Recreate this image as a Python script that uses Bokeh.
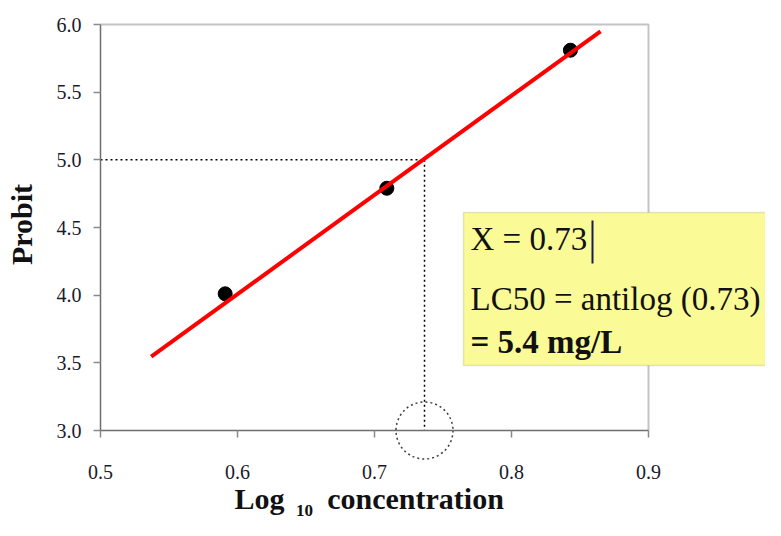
import numpy as np
from bokeh.plotting import figure
from bokeh.models import (Label, BoxAnnotation, FixedTicker,
                          NumeralTickFormatter, Range1d)
from bokeh.embed import file_html
from bokeh.resources import INLINE

# ---- data ----
log_conc = [0.591, 0.709, 0.843]
probit = [4.01, 4.79, 5.81]
fit_x = [0.537, 0.865]
fit_y = [3.546, 5.95]
lc50_x = 0.7365
probit_50 = 5.0
x_ticks = [0.5, 0.6, 0.7, 0.8, 0.9]
y_ticks = [3.0, 3.5, 4.0, 4.5, 5.0, 5.5, 6.0]

SERIF = "Liberation Serif"
W, H = 765, 520
# plot box in canvas pixels: x 0.5->100, 0.9->648 ; y 6.0->24, 3.0->430
SX = (648 - 100) / (x_ticks[-1] - x_ticks[0])
SY = (430 - 24) / (y_ticks[-1] - y_ticks[0])


def px_x(px):
    return x_ticks[0] + (px - 100) / SX


def px_y(py):
    return y_ticks[-1] - (py - 24) / SY


p = figure(width=W, height=H, output_backend="svg", toolbar_location=None,
           x_range=Range1d(px_x(0), px_x(W)), y_range=Range1d(px_y(H), px_y(0)),
           min_border=0)
p.grid.visible = False
p.outline_line_color = None

p.xaxis.fixed_location = y_ticks[0]
p.yaxis.fixed_location = x_ticks[0]
p.xaxis.bounds = (x_ticks[0], x_ticks[-1])
p.yaxis.bounds = (y_ticks[0], y_ticks[-1])

for ax, ticks in ((p.xaxis, x_ticks), (p.yaxis, y_ticks)):
    ax.ticker = FixedTicker(ticks=ticks)
    ax.formatter = NumeralTickFormatter(format="0.0")
    ax.minor_tick_line_color = None
    ax.major_tick_in = 0
    ax.major_tick_out = 7
    ax.axis_line_color = "#6e6e6e"
    ax.axis_line_width = 1.5
    ax.major_tick_line_color = "#8a8a8a"
    ax.major_tick_line_width = 1.5
    ax.major_label_text_font = SERIF
    ax.major_label_text_font_size = "20px"
    ax.major_label_text_color = "#1a1a2a"
p.xaxis.major_label_standoff = 27
p.yaxis.major_label_standoff = 12

# light top / right border of the plot box
p.line([x_ticks[0], x_ticks[-1], x_ticks[-1]], [y_ticks[-1], y_ticks[-1], y_ticks[0]],
       line_color="#c4c4c4", line_width=2)

# dotted guide lines
p.segment(x0=[x_ticks[0], lc50_x], y0=[probit_50, probit_50],
          x1=[lc50_x, lc50_x], y1=[probit_50, y_ticks[0]],
          line_color="black", line_width=1.5, line_dash="2 3")

# dotted circle around the LC50 on the x axis
p.ellipse(x=[lc50_x], y=[y_ticks[0]], width=57 / SX, height=57 / SY,
          fill_color=None, line_color="#3a3a3a", line_width=1.5, line_dash="2 3")

# data points and fitted line
p.scatter(log_conc, probit, size=14, color="black")
p.line(fit_x, fit_y, line_color="#ff0000", line_width=4)

# yellow text box
p.add_layout(BoxAnnotation(left=px_x(463), right=px_x(W + 20), top=px_y(212),
                           bottom=px_y(365), fill_color="#fafa96", fill_alpha=1,
                           line_color="#a9a97c", line_width=1.5))

TXT = dict(text_font=SERIF, text_color="#111111", text_baseline="bottom")

p.add_layout(Label(x=px_x(470), y=px_y(256), text="X = 0.73",
                   text_font_size="33px", **TXT))
p.add_layout(BoxAnnotation(left=px_x(591), right=px_x(593), top=px_y(220),
                           bottom=px_y(263), fill_color="#1a1a55", fill_alpha=1,
                           line_color=None))
p.add_layout(Label(x=px_x(470), y=px_y(316), text="LC50 = antilog (0.73)",
                   text_font_size="33px", **TXT))
p.add_layout(Label(x=px_x(470), y=px_y(359), text="= 5.4 mg/L",
                   text_font_size="33px", text_font_style="bold", **TXT))

# axis titles
p.add_layout(Label(x=px_x(37), y=px_y(224), text="Probit", angle=np.pi / 2,
                   text_align="center", text_font_size="30px",
                   text_font_style="bold", **TXT))
p.add_layout(Label(x=px_x(259), y=px_y(514), text="Log", text_align="center",
                   text_font_size="30px", text_font_style="bold", **TXT))
p.add_layout(Label(x=px_x(304), y=px_y(515), text="10", text_align="center",
                   text_font_size="17px", text_font_style="bold", **TXT))
p.add_layout(Label(x=px_x(415), y=px_y(514), text="concentration",
                   text_align="center", text_font_size="30px",
                   text_font_style="bold", **TXT))

open("out.html", "w").write(file_html(p, INLINE))
